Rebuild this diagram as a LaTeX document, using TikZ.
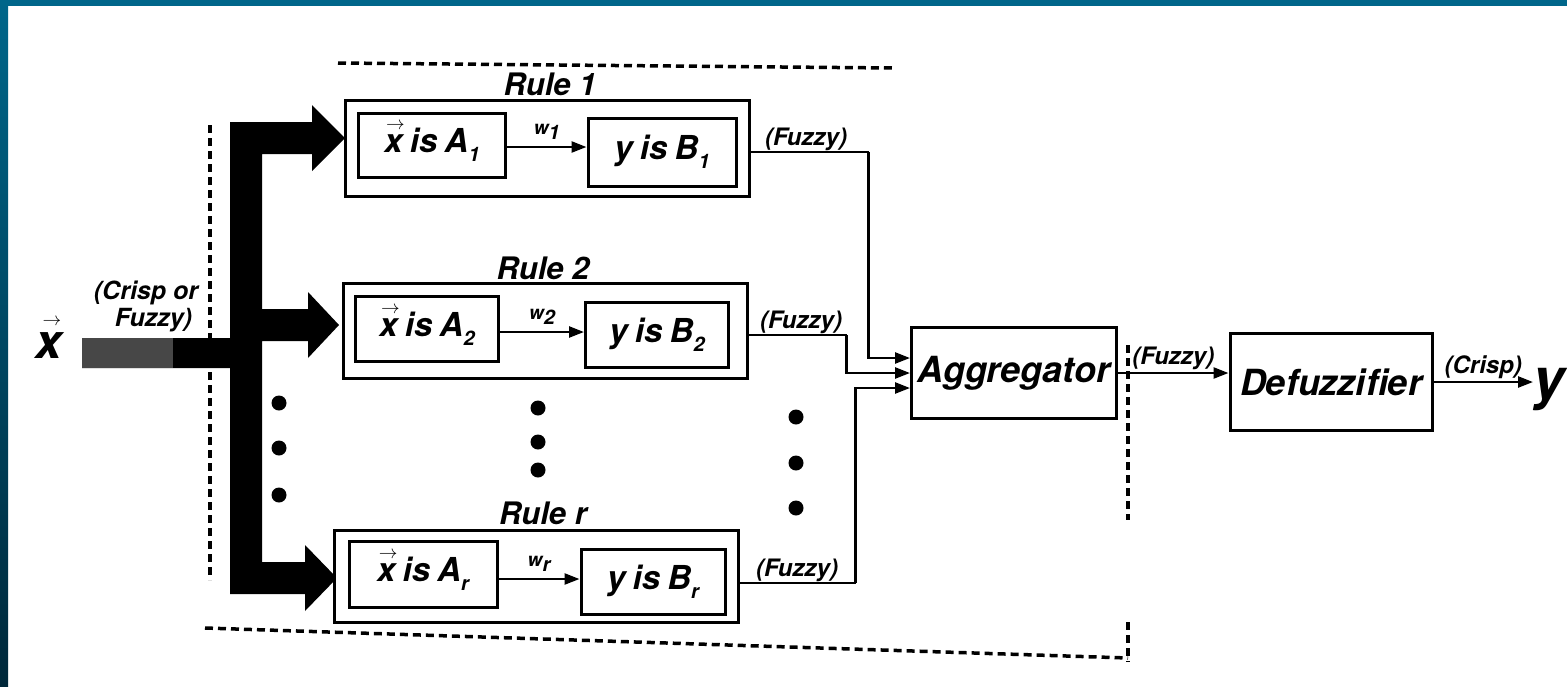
\documentclass[tikz,border=0pt]{standalone}
\usepackage{fontspec}
\usepackage{graphicx}
\setmainfont{TeX Gyre Heros}
\usetikzlibrary{arrows.meta}
\definecolor{teal1}{HTML}{00668A}
\definecolor{teal2}{HTML}{00283A}
\newcommand{\hvf}[1]{\fontsize{#1}{#1}\selectfont\bfseries\itshape}
\newcommand{\vx}{\leavevmode\ooalign{x\cr\hidewidth\kern0.12em\raisebox{0.7em}{\scalebox{0.75}{$\boldsymbol{\rightarrow}$}}\hidewidth\cr}}
\providecommand{\boldsymbol}[1]{#1}
\newcommand{\sbs}[1]{\raisebox{-0.28em}{\fontsize{20}{20}\selectfont #1}}
\newcommand{\wsp}{\hspace{0.22em}}
\tikzset{
  outerbox/.style={draw, line width=3pt, fill=white, inner sep=0pt},
  innerbox/.style={draw, line width=3pt, fill=white, inner sep=0pt, font=\hvf{33}},
  mainbox/.style={draw, line width=3pt, fill=white, inner sep=0pt, font=\hvf{36}},
  rulelabel/.style={font=\hvf{31}, inner sep=0pt},
  smalllabel/.style={font=\hvf{24}, inner sep=1pt},
  wlabel/.style={font=\hvf{19}, inner sep=0pt},
  conn/.style={line width=2.5pt, line join=miter},
  tipconn/.style={line width=2.5pt, -{Triangle[length=15pt,width=11pt]}},
  frame/.style={line width=3.5pt, dash pattern=on 8pt off 5pt},
  dotmark/.style={circle, fill=black, inner sep=0pt, minimum size=15pt}
}
\begin{document}
\begin{tikzpicture}[x=1pt,y=-1pt]
\useasboundingbox (0,0) rectangle (1567,686);
\fill[white] (0,0) rectangle (1567,686);
% slide border
\fill[teal1] (0,0) rectangle (1567,6);
\shade[top color=teal1, bottom color=teal2] (0,0) rectangle (8,686);

% dashed frame
\draw[frame] (338,63) -- (893,68);
\draw[frame] (210,125) -- (210,580);
\draw[frame] (205,628) -- (1128,658);
\draw[frame] (1128,345) -- (1128,520);
\draw[frame] (1128,622) -- (1128,662);

% thick input arrow
\fill[black] (82,338) -- (230,338) -- (230,122) -- (312,122) -- (312,105) -- (345,138)
  -- (312,171) -- (312,154) -- (262,154) -- (262,309) -- (308,309) -- (308,292)
  -- (339,325) -- (308,358) -- (308,341) -- (262,341) -- (262,562) -- (305,562)
  -- (305,545) -- (337,578) -- (305,611) -- (305,594) -- (230,594) -- (230,368)
  -- (82,368) -- cycle;
\fill[black!72] (82,338) rectangle (173,368);

\node[font=\hvf{48}, inner sep=0pt] (xin) at (49,346) {\vx};
\node[font=\hvf{25}, align=center, inner sep=0pt] (cf) at (146,306)
  {(Crisp or\\[2pt]\hspace{0.6em}Fuzzy)};

% rule 1
\node[outerbox, minimum width=404pt, minimum height=96pt] (r1) at (547,148) {};
\node[innerbox, minimum width=147pt, minimum height=64pt] (a1) at (432,145) {\vx\wsp is\wsp A\sbs{1}};
\node[innerbox, minimum width=148pt, minimum height=68pt] (b1) at (662,152) {y\wsp is\wsp B\sbs{1}};
\node[rulelabel] (l1) at (550,84) {Rule 1};
\draw[tipconn] (a1.east |- 0,147) -- (b1.west |- 0,147) node[wlabel, midway, above=6pt] {w\sbs{1}};

% rule 2
\node[outerbox, minimum width=404pt, minimum height=95pt] (r2) at (545,331) {};
\node[innerbox, minimum width=143pt, minimum height=65pt] (a2) at (427,329) {\vx\wsp is\wsp A\sbs{2}};
\node[innerbox, minimum width=143pt, minimum height=65pt] (b2) at (657,335) {y\wsp is\wsp B\sbs{2}};
\node[rulelabel] (l2) at (543,268) {Rule 2};
\draw[tipconn] (a2.east |- 0,332) -- (b2.west |- 0,332) node[wlabel, midway, above=6pt] {w\sbs{2}};

% rule r
\node[outerbox, minimum width=404pt, minimum height=92pt] (rr) at (536,576) {};
\node[innerbox, minimum width=148pt, minimum height=66pt] (ar) at (423,574) {\vx\wsp is\wsp A\sbs{r}};
\node[innerbox, minimum width=144pt, minimum height=65pt] (br) at (653,582) {y\wsp is\wsp B\sbs{r}};
\node[rulelabel] (lr) at (543,513) {Rule r};
\draw[tipconn] (ar.east |- 0,579) -- (br.west |- 0,579) node[wlabel, midway, above=6pt] {w\sbs{r}};

% dots
\node[dotmark] (d1) at (279,403) {};
\node[dotmark] (d2) at (279,448) {};
\node[dotmark] (d3) at (279,495) {};
\node[dotmark] (d4) at (538,408) {};
\node[dotmark] (d5) at (538,442) {};
\node[dotmark] (d6) at (538,470) {};
\node[dotmark] (d7) at (796,417) {};
\node[dotmark] (d8) at (796,463) {};
\node[dotmark] (d9) at (796,508) {};

% aggregator and defuzzifier
\node[mainbox, minimum width=205pt, minimum height=91pt] (agg) at (1014,373) {Aggregator};
\node[mainbox, minimum width=202pt, minimum height=97pt] (def) at (1331,382) {Defuzzifier};
\node[font=\hvf{56}, inner sep=0pt, anchor=west] (yout) at (1533,390) {y};

% rule outputs to aggregator
\draw[conn] ([yshift=-4pt]r1.east) -- ++(118,0) coordinate (c1);
\draw[tipconn] (c1) |- ([yshift=15pt]agg.west);
\node[smalllabel, anchor=south] (f1) at (806,152) {(Fuzzy)};
\draw[conn] ([yshift=-4pt]r2.east) -- ++(98,0) coordinate (c2);
\draw[tipconn] (c2) |- (agg.west);
\node[smalllabel, anchor=south] (f2) at (801,335) {(Fuzzy)};
\draw[conn] ([yshift=-7pt]rr.east) -- ++(116,0) coordinate (c3);
\draw[tipconn] (c3) |- ([yshift=-15pt]agg.west);
\node[smalllabel, anchor=south] (f3) at (797,583) {(Fuzzy)};

% aggregator -> defuzzifier -> y
\draw[tipconn] (agg.east) -- (agg.east -| def.west) node[smalllabel, midway, above=1pt] (f4) {(Fuzzy)};
\draw[tipconn] (def.east) -- (def.east -| yout.west) node[smalllabel, midway, above=1pt] (cr) {(Crisp)};
\end{tikzpicture}
\end{document}
